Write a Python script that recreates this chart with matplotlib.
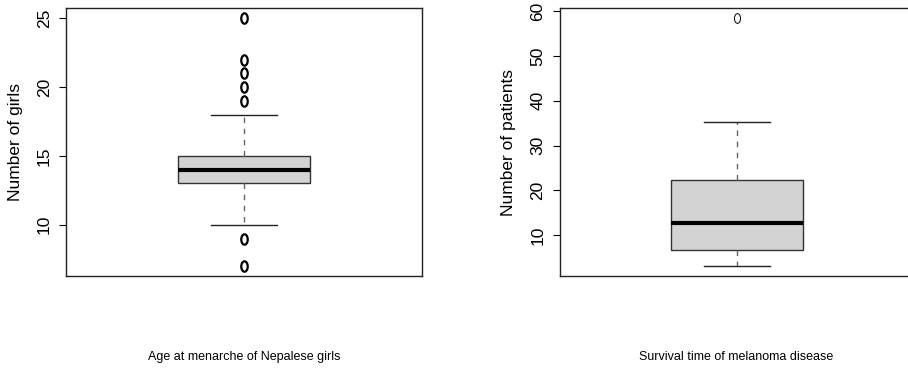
import matplotlib
matplotlib.use("Agg")
import matplotlib.pyplot as plt
import matplotlib.path as mpath
import matplotlib.transforms as mtrans

# summary stats
girls_stats = {"whislo": 10, "q1": 13, "med": 14, "q3": 15, "whishi": 18}
girls_fliers = [25, 22, 21, 20, 19, 9, 7]
girls_ticks = [10, 15, 20, 25]

melanoma_stats = {"whislo": 3.1, "q1": 6.8, "med": 12.8, "q3": 22.4, "whishi": 35.2}
melanoma_fliers = [58.4]
melanoma_ticks = [10, 20, 30, 40, 50, 60]

ylabels = ["Number of girls", "Number of patients"]
titles = ["Age at menarche of Nepalese girls", "Survival time of melanoma disease"]

plt.rcParams["font.family"] = ["Liberation Sans", "DejaVu Sans"]

# slightly tall open circle, like R's pch=1 here
ell = mpath.Path.unit_circle().transformed(mtrans.Affine2D().scale(0.62, 1.0))

fig = plt.figure(figsize=(9.08, 3.77), dpi=100)
ax1 = fig.add_axes([66 / 908, 1 - 276 / 377, 355.7 / 908, 267.7 / 377])
ax2 = fig.add_axes([559.5 / 908, 1 - 276 / 377, 355.7 / 908, 267.7 / 377])


def draw(ax, stats, fliers, ticks, ylab, mew, msize):
    st = dict(stats)
    st["fliers"] = fliers
    ax.bxp([st], positions=[1], widths=0.4, capwidths=0.2, patch_artist=True,
           boxprops=dict(facecolor="#d3d3d3", edgecolor="#333333", linewidth=1.0),
           medianprops=dict(color="black", linewidth=3.0, solid_capstyle="butt"),
           whiskerprops=dict(color="#666666", linewidth=1.0, linestyle=(0, (4, 4))),
           capprops=dict(color="#222222", linewidth=1.0),
           flierprops=dict(marker=ell, markersize=msize, markerfacecolor="none",
                           markeredgecolor="black", markeredgewidth=mew, linestyle="none"))
    lo = min([stats["whislo"]] + fliers)
    hi = max([stats["whishi"]] + fliers)
    ext = (hi - lo) * 0.04
    ax.set_ylim(lo - ext, hi + ext)
    ax.set_xlim(0.46, 1.54)
    ax.set_xticks([])
    ax.set_yticks(ticks)
    ax.set_yticklabels([str(t) for t in ticks], rotation=90, va="center", fontsize=12.5)
    ax.tick_params(axis="y", length=5, width=0.8, pad=5)
    for s in ax.spines.values():
        s.set_linewidth(1.0)
        s.set_color("#222222")
    ax.set_ylabel(ylab, fontsize=12.5)
    ax.yaxis.label.set_va("center")
    ax.yaxis.set_label_coords(-0.143, 0.5)


draw(ax1, girls_stats, girls_fliers, girls_ticks, ylabels[0], 1.6, 7.5)
draw(ax2, melanoma_stats, melanoma_fliers, melanoma_ticks, ylabels[1], 0.7, 7)

fig.text(244 / 908, 1 - 357 / 377, titles[0], ha="center", va="center", fontsize=9)
fig.text(736 / 908, 1 - 357 / 377, titles[1], ha="center", va="center", fontsize=9)

fig.savefig("out.png", dpi=100)
